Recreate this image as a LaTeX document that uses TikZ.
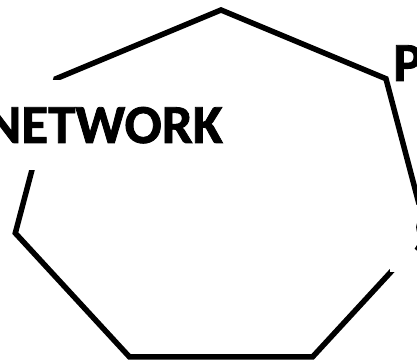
\documentclass[tikz,border=0pt]{standalone}
\usepackage{fontspec}
\setmainfont{Carlito}[BoldFeatures={FakeBold=1.5}]
\usetikzlibrary{arrows.meta}

\begin{document}
\begin{tikzpicture}[x=1pt,y=1pt,
  edge/.style={line width=5.5pt,black},
  lbl/.style={fill=white,inner sep=0pt,font=\fontsize{55}{66}\selectfont\bfseries}]
\useasboundingbox (0,0) rectangle (417,362);
\coordinate (c) at (221,169.5);
\foreach \i in {0,...,6}
  \coordinate (v\i) at ([shift={(c)}] 90-\i*360/7:211 and 182.5);
\draw[edge] (v0) -- (v1) -- (v2) -- (v3) -- (v4) -- (v5) -- (v6) -- cycle;
\node[lbl,anchor=base east,text height=63pt,text depth=27pt] (network) at (223,219) {NETWORK};
\node[lbl,anchor=base west,text height=36pt,text depth=0pt] (p) at (393,281) {P};
\node[lbl,anchor=base west,inner xsep=24pt,inner ysep=0pt,text height=48pt,text depth=19pt] (s) at (390,109) {S};
\end{tikzpicture}
\end{document}
